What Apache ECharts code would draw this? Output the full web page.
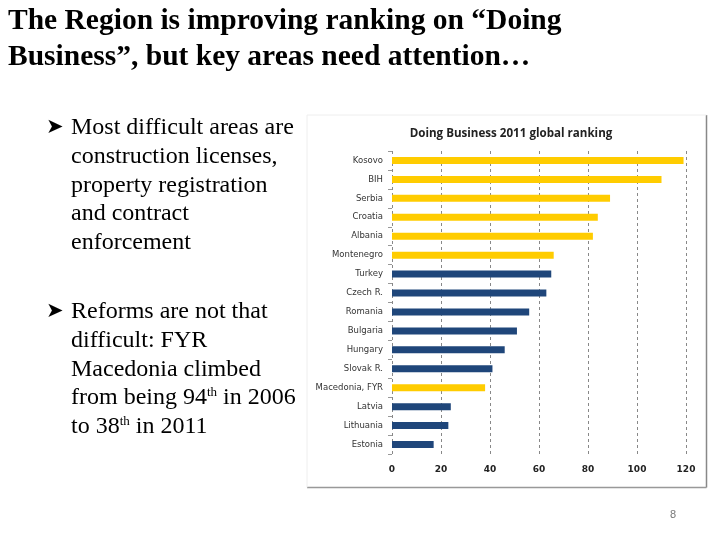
<!DOCTYPE html>
<html>
<head>
<meta charset="utf-8">
<script src="https://cdn.jsdelivr.net/npm/echarts@6/dist/echarts.min.js"></script>
<style>
html,body{margin:0;padding:0;background:#fff;}
#main{width:720px;height:540px;}
</style>
</head>
<body>
<div id="main"></div>
<script>
const countries = ['Kosovo','BIH','Serbia','Croatia','Albania','Montenegro','Turkey','Czech R.','Romania','Bulgaria','Hungary','Slovak R.','Macedonia, FYR','Latvia','Lithuania','Estonia'];
const ranks = [119,110,89,84,82,66,65,63,56,51,46,41,38,24,23,17];
const regionCountries = ['Kosovo','BIH','Serbia','Croatia','Albania','Montenegro','Macedonia, FYR'];
const xTicks = [0,20,40,60,80,100,120];

const YELLOW = '#FFCC00';
const NAVY = '#1F467A';

const chart = echarts.init(document.getElementById('main'));
const serif = '"Liberation Serif","Times New Roman",serif';

const bulletLines1 = ['Most difficult areas are','construction licenses,','property registration','and contract','enforcement'];
const bulletLines2 = [
  'Reforms are not that',
  'difficult: FYR',
  'Macedonia climbed',
  'from being 94{sup|th} in 2006',
  'to 38{sup|th} in 2011'
];

const graphics = [];
graphics.push({type:'text', left:8, top:6, style:{text:'The Region is improving ranking on \u201cDoing', font:'bold 29.5px '+serif, fill:'#000'}});
graphics.push({type:'text', left:8, top:42, style:{text:'Business\u201d, but key areas need attention\u2026', font:'bold 29.5px '+serif, fill:'#000'}});

function addBullet(lines, y0){
  graphics.push({type:'text', left:46, top:y0+1, style:{text:'\u27A4', font:'21px "DejaVu Sans"', fill:'#000'}});
  lines.forEach((t,i)=>{
    graphics.push({type:'text', left:71, top:y0 + i*28.7, style:{
      text:t, font:'24px '+serif, fill:'#000',
      rich:{sup:{fontSize:13, fontFamily:'Liberation Serif', verticalAlign:'top', padding:[0,0,11,0], fill:'#000'}}
    }});
  });
}
addBullet(bulletLines1, 116);
addBullet(bulletLines2, 300);

// chart frame
graphics.push({type:'line', shape:{x1:706.5,y1:115,x2:706.5,y2:487.5}, style:{stroke:'#888', lineWidth:1.5}});
graphics.push({type:'line', shape:{x1:307,y1:487.5,x2:706.5,y2:487.5}, style:{stroke:'#999', lineWidth:1.5}});
graphics.push({type:'line', shape:{x1:307,y1:115,x2:307,y2:487.5}, style:{stroke:'#eee', lineWidth:1}});
graphics.push({type:'line', shape:{x1:307,y1:115,x2:706.5,y2:115}, style:{stroke:'#eee', lineWidth:1}});
graphics.push({type:'text', left:670, top:509, style:{text:'8', font:'11px "Liberation Sans"', fill:'#777'}});

chart.setOption({
  animation:false,
  backgroundColor:'#fff',
  title:{
    text:'Doing Business 2011 global ranking',
    left:506, top:123, textAlign:'center',
    textStyle:{fontFamily:'"Open Sans"', fontWeight:'bold', fontSize:11.6, color:'#222'}
  },
  grid:{left:392, right:34, top:151, bottom:86},
  xAxis:{
    type:'value', min:0, max:120, interval:20,
    axisLine:{show:false}, axisTick:{show:false},
    splitLine:{show:true, lineStyle:{type:[3,3], color:'#888', width:1}},
    axisLabel:{margin:11, fontSize:9, fontWeight:'bold', color:'#222', fontFamily:'"DejaVu Sans"',
      formatter:v=> xTicks.includes(v) ? String(v) : ''}
  },
  yAxis:{
    type:'category', data:countries, inverse:true,
    axisLine:{show:false},
    axisTick:{show:true, length:4, lineStyle:{color:'#999'}},
    axisLabel:{margin:9, fontSize:8.5, color:'#333', fontFamily:'"DejaVu Sans"'}
  },
  series:[{
    type:'bar',
    barWidth:7,
    data: countries.map((c,i)=>({value:ranks[i], itemStyle:{color: regionCountries.includes(c)?YELLOW:NAVY}}))
  }],
  graphic:graphics
});
</script>
</body>
</html>
